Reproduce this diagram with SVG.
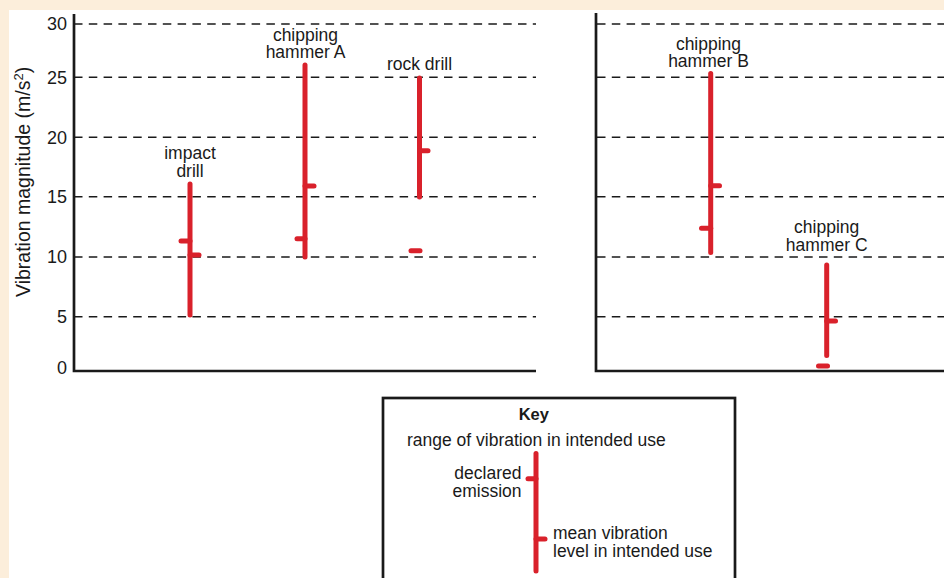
<svg xmlns="http://www.w3.org/2000/svg" width="944" height="578" viewBox="0 0 944 578">
<style>
.t{font-family:"Liberation Sans",Arial,Helvetica,sans-serif;fill:#1a1a1a;font-size:17.5px}
.c{text-anchor:middle}
.e{text-anchor:end}
.tick{font-family:"Liberation Sans",Arial,Helvetica,sans-serif;fill:#1a1a1a;font-size:18px;text-anchor:end}
.grid{stroke:#1a1a1a;stroke-width:1.5;stroke-dasharray:8.5 6.3;fill:none}
.axis{stroke:#1a1a1a;stroke-width:2.7;fill:none}
.bar{stroke:#D9212B;stroke-width:5;stroke-linecap:round;fill:none}
</style>
<rect x="0" y="0" width="944" height="578" fill="#FCEEDB"/>
<rect x="9" y="10" width="935" height="568" fill="#FFFFFF"/>

<g id="left-panel">
  <g id="left-grid">
    <line class="grid" x1="74" y1="24" x2="536" y2="24"/>
    <line class="grid" x1="74" y1="77.3" x2="536" y2="77.3"/>
    <line class="grid" x1="74" y1="137.3" x2="536" y2="137.3"/>
    <line class="grid" x1="74" y1="196.8" x2="536" y2="196.8"/>
    <line class="grid" x1="74" y1="257" x2="536" y2="257"/>
    <line class="grid" x1="74" y1="316.8" x2="536" y2="316.8"/>
  </g>
  <path class="axis" d="M74 14 V371 H536"/>
  <g id="y-ticks">
    <text class="tick" x="67" y="30">30</text>
    <text class="tick" x="67" y="83.5">25</text>
    <text class="tick" x="67" y="143.5">20</text>
    <text class="tick" x="67" y="203">15</text>
    <text class="tick" x="67" y="263">10</text>
    <text class="tick" x="67" y="323">5</text>
    <text class="tick" x="67" y="374">0</text>
  </g>
  <text class="t" font-size="19.5" transform="translate(29.5,297) rotate(-90)" style="font-size:19.5px">Vibration magnitude (m/s<tspan dy="-7" style="font-size:13px">2</tspan><tspan dy="7">)</tspan></text>
</g>

<g id="right-panel">
  <g id="right-grid">
    <line class="grid" x1="597" y1="24" x2="944" y2="24"/>
    <line class="grid" x1="597" y1="77.3" x2="944" y2="77.3"/>
    <line class="grid" x1="597" y1="137.3" x2="944" y2="137.3"/>
    <line class="grid" x1="597" y1="196.8" x2="944" y2="196.8"/>
    <line class="grid" x1="597" y1="257" x2="944" y2="257"/>
    <line class="grid" x1="597" y1="316.8" x2="944" y2="316.8"/>
  </g>
  <path class="axis" d="M596 13 V371 H944"/>
</g>

<g id="impact-drill">
  <text class="t c" x="190" y="159">impact</text>
  <text class="t c" x="190" y="176.7">drill</text>
  <line class="bar" x1="190" y1="184" x2="190" y2="315"/>
  <line class="bar" x1="181" y1="241" x2="190" y2="241"/>
  <line class="bar" x1="190" y1="255" x2="199" y2="255"/>
</g>

<g id="chipping-hammer-a">
  <text class="t c" x="305.5" y="40.7">chipping</text>
  <text class="t c" x="305.5" y="57.7">hammer A</text>
  <line class="bar" x1="305" y1="65" x2="305" y2="257"/>
  <line class="bar" x1="305" y1="186" x2="314" y2="186"/>
  <line class="bar" x1="297" y1="238.7" x2="305" y2="238.7"/>
</g>

<g id="rock-drill">
  <text class="t c" x="419.5" y="70">rock drill</text>
  <line class="bar" x1="419.5" y1="78" x2="419.5" y2="197"/>
  <line class="bar" x1="419.5" y1="150.7" x2="428" y2="150.7"/>
  <line class="bar" x1="411" y1="250.7" x2="420" y2="250.7"/>
</g>

<g id="chipping-hammer-b">
  <text class="t c" x="708.5" y="50">chipping</text>
  <text class="t c" x="708.5" y="66.7">hammer B</text>
  <line class="bar" x1="710.7" y1="73.5" x2="710.7" y2="252.5"/>
  <line class="bar" x1="710.7" y1="185.7" x2="719.5" y2="185.7"/>
  <line class="bar" x1="701.5" y1="228.3" x2="710.7" y2="228.3"/>
</g>

<g id="chipping-hammer-c">
  <text class="t c" x="826.7" y="233">chipping</text>
  <text class="t c" x="826.7" y="250.7">hammer C</text>
  <line class="bar" x1="826.7" y1="265" x2="826.7" y2="355.5"/>
  <line class="bar" x1="826.7" y1="321" x2="835.5" y2="321"/>
  <line class="bar" x1="818.5" y1="366" x2="827.5" y2="366"/>
</g>

<g id="key">
  <rect x="383" y="398" width="352" height="190" fill="#FFFFFF" stroke="#1a1a1a" stroke-width="2.7"/>
  <text class="t c" x="533.8" y="420" style="font-size:16.5px;font-weight:bold">Key</text>
  <text class="t" x="407" y="446">range of vibration in intended use</text>
  <line class="bar" x1="536" y1="453.5" x2="536" y2="571"/>
  <line class="bar" x1="528" y1="478.7" x2="536" y2="478.7"/>
  <line class="bar" x1="536" y1="539" x2="545" y2="539"/>
  <text class="t e" x="521.5" y="479">declared</text>
  <text class="t e" x="521.5" y="496.7">emission</text>
  <text class="t" x="553" y="539">mean vibration</text>
  <text class="t" x="553" y="556.7">level in intended use</text>
</g>

<g id="connectors"/>
</svg>
